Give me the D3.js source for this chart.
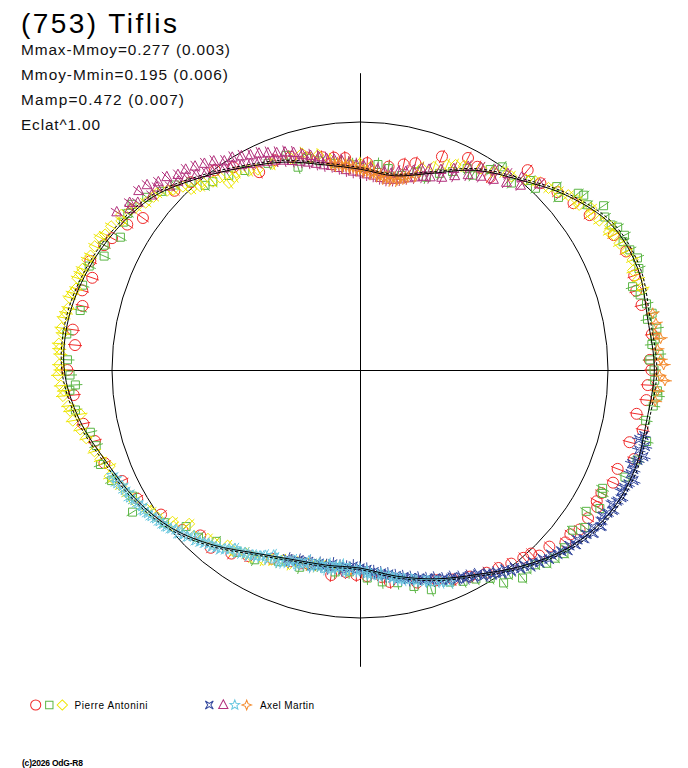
<!DOCTYPE html>
<html><head><meta charset="utf-8">
<script src="https://cdn.jsdelivr.net/npm/d3@7"></script>
<style>html,body{margin:0;padding:0;background:#fff;} svg{display:block;}</style>
</head><body>
<svg id="c" width="688" height="768"></svg>
<script>
// ---------- texts ----------
const titleText = "(753) Tiflis";
const infoLines = ["Mmax-Mmoy=0.277 (0.003)", "Mmoy-Mmin=0.195 (0.006)", "Mamp=0.472 (0.007)", "Eclat^1.00"];
const observerNames = ["Pierre Antonini", "Axel Martin"];
const creditText = "(c)2026 OdG-R8";
const maxBrightMag = -0.195;   // Mmoy-Mmin, sets axis extent

// ---------- model lightcurve (phase in degrees, delta mag) ----------
const modelPhase = [0,10,20,30,40,50,60,70,80,90,100,110,120,130,140,150,160,170,180,190,200,210,220,230,240,250,260,270,280,290,300,310,320,330,340,350];
const modelMag   = [.225,.245,.180,.075,-.005,-.100,-.175,-.195,-.182,-.190,-.178,-.182,-.165,-.115,-.035,.050,.115,.180,.240,.240,.222,.170,.085,.005,-.050,-.095,-.155,-.195,-.196,-.174,-.140,-.095,-.015,.060,.120,.185];

// ---------- observations [phase deg, delta mag] ----------
const antoniniCircles = [[2,.196],[8,.205],[12,.180],[15,.160],[21,.088],[27,.045],[30,.060],[34,.069],[40,-.055],[44,-.050],[48,-.075],[52,-.096],[56,-.120],[62,-.160],[66,-.175],[71,-.170],[74,-.160],[77,-.166],[83,-.185],[88,-.170],[90,-.175],[93,-.163],[96,-.162],[99,-.132],[102,-.166],[105,-.128],[108,-.163],[111,-.116],[114,-.120],[117,-.096],[119,-.095],[120,-.108],[123,-.100],[126,-.098],[128,-.080],[130,-.085],[133,-.047],[136,-.043],[137,-.013],[139,-.004],[142,.010],[145,.028],[148,.040],[152,.063],[156,.085],[160,.112],[165,.130],[172,.160],[174,.190],[178,.200],[181,.207],[184,.220],[188,.196],[195,.230],[197,.222],[200,.215],[205,.190],[211,.145],[215,.110],[220,.072],[224,.082],[228,.040],[234,.009],[240,-.040],[245,-.062],[250,-.100],[255,-.110],[259,-.139],[265,-.160],[270,-.180],[275,-.155],[278,-.170],[283,-.150],[286,-.166],[289,-.144],[292,-.173],[296,-.150],[298,-.135],[302,-.110],[305,-.072],[314,-.043],[318,-.020],[324,.005],[328,.040],[333,.120],[338,.100],[342,.110],[346,.135],[350,.150],[353,.160],[356,.168]];
const antoniniSquares = [[318,-.020],[320,.031],[322,.040],[326,.060],[330,.080],[336,.100],[341,.096],[343,.170],[346,.140],[349,.165],[353,.190],[358,.205],[0,.220],[5,.200],[8,.215],[12,.240],[16,.200],[19,.213],[22,.170],[25,.135],[28,.090],[30,.106],[33,.040],[35,.000],[39,.033],[42,-.030],[44,-.020],[47,-.088],[49,-.064],[51,-.135],[52,-.147],[54,-.136],[56,-.184],[58,-.165],[60,-.170],[61,-.187],[63,-.195],[64,-.180],[66,-.190],[68,-.204],[70,-.195],[73,-.151],[75,-.170],[77,-.185],[79,-.198],[80,-.177],[82,-.206],[84,-.195],[85,-.181],[87,-.205],[88,-.170],[90,-.185],[92,-.188],[94,-.200],[95,-.203],[97,-.190],[100,-.170],[104,-.190],[108,-.175],[112,-.154],[116,-.092],[117,-.100],[120,-.120],[122,-.079],[125,-.110],[127,-.077],[131,-.096],[132,-.110],[134,-.096],[136,-.087],[138,-.060],[140,-.050],[142,-.068],[144,-.020],[146,-.038],[148,.010],[151,.040],[154,.058],[157,.080],[162,.077],[166,.115],[170,.150],[174,.165],[178,.190],[183,.222],[187,.215],[192,.236],[197,.200],[203,.190],[209,.145],[214,.130],[220,.112],[224,.070],[228,.063],[232,.000],[238,-.085],[241,-.052],[246,-.100],[250,-.117],[254,-.110],[257,-.119],[262,-.160],[266,-.173],[267,-.151],[269,-.170],[272,-.180],[277,-.190],[282,-.155],[287,-.170],[291,-.170],[294,-.132],[296,-.150],[299,-.108],[302,-.128],[304,-.132],[306,-.139],[309,-.110],[312,-.080],[315,-.058]];
const antoniniDiamonds = [[17,.175],[20,.150],[23,.117],[25,.100],[27,.086],[31,.058],[34,.040],[36,.015],[38,.010],[41,-.020],[43,-.041],[46,-.060],[48,-.080],[50,-.100],[52,-.115],[53,-.110],[55,-.140],[56,-.126],[58,-.140],[60,-.165],[61,-.150],[62,-.160],[64,-.165],[66,-.177],[68,-.185],[70,-.172],[72,-.180],[74,-.185],[183,.235],[186,.240],[190,.240],[193,.230],[195,.230],[198,.222],[200,.200],[202,.205],[205,.185],[207,.165],[210,.150],[212,.150],[215,.125],[217,.130],[220,.100],[222,.095],[225,.060],[228,.082],[230,.020],[231,.030],[234,-.011],[236,-.020],[237,-.030],[240,-.055],[242,-.065],[244,-.075],[246,-.090],[247,-.100],[249,-.085],[251,-.110],[253,-.123],[256,-.140],[258,-.155],[260,-.176],[261,-.143],[262,-.180],[263,-.185],[265,-.200],[266,-.195],[267,-.205],[269,-.214],[270,-.205],[271,-.210],[273,-.207],[274,-.212],[275,-.215],[277,-.205],[278,-.212],[280,-.210],[281,-.205],[282,-.200],[284,-.205],[285,-.198],[286,-.190],[288,-.196],[289,-.192],[290,-.190],[292,-.185],[293,-.180],[295,-.180],[297,-.177],[298,-.165],[300,-.160],[302,-.137],[303,-.150],[305,-.130],[306,-.120],[308,-.100],[310,-.090],[311,-.089],[313,-.065],[314,-.050],[316,-.030],[317,.002],[319,.020],[320,.010],[322,.040],[324,.044],[325,.089],[327,.080],[328,.068],[331,.090],[333,.106],[337,.110],[342,.120],[345,.110],[347,.140],[349,.135],[352,.170],[355,.190],[357,.195],[0,.200],[3,.215]];
const martinCrosses = [[103,-.175],[104,-.160],[105,-.190],[106,-.170],[107,-.195],[108,-.178],[109,-.160],[110,-.175],[111,-.168],[112,-.190],[113,-.175],[114,-.165],[115,-.162],[116,-.175],[117,-.165],[118,-.152],[119,-.168],[120,-.155],[121,-.145],[122,-.150],[123,-.160],[124,-.135],[125,-.150],[126,-.130],[127,-.133],[128,-.115],[129,-.122],[130,-.105],[131,-.112],[132,-.095],[133,-.092],[134,-.075],[135,-.082],[136,-.062],[137,-.066],[138,-.045],[139,-.052],[140,-.030],[141,-.032],[142,-.012],[143,-.016],[144,.006],[145,.000],[146,.018],[147,.020],[148,.036],[149,.034],[150,.056],[151,.052],[152,.068],[153,.064],[154,.081],[155,.078],[156,.098],[157,.090],[158,.106],[159,.104],[160,.124],[161,.118],[162,.134],[163,.130],[164,.148],[165,.144],[166,.161],[167,.154],[168,.174],[169,.169],[170,.186],[171,.178],[172,.201],[173,.194],[174,.211],[175,.204],[176,.221],[177,.218],[178,.236],[179,.228],[180,.244],[181,.234],[182,.254],[183,.240],[184,.246],[185,.230],[186,.248],[187,.242],[188,.256],[189,.232],[190,.241],[191,.238],[192,.246],[194,.224],[195,.244],[197,.230],[198,.234],[200,.214],[201,.222]];
const martinTriangles = [[303,-.170],[305,-.135],[306,-.150],[307,-.125],[309,-.150],[310,-.100],[311,-.140],[312,-.105],[313,-.115],[314,-.070],[315,-.105],[316,-.060],[317,-.080],[318,-.050],[319,-.075],[320,-.030],[321,-.060],[322,-.010],[323,-.045],[324,.000],[325,-.030],[326,.020],[327,-.005],[328,.030],[329,.000],[330,.050],[331,.015],[332,.065],[333,.030],[334,.075],[335,.040],[336,.090],[337,.055],[338,.100],[339,.070],[340,.115],[341,.080],[342,.130],[343,.095],[344,.145],[345,.115],[346,.160],[347,.130],[348,.175],[349,.145],[350,.190],[351,.160],[352,.200],[353,.170],[354,.215],[355,.180],[356,.230],[357,.195],[358,.240],[359,.205],[0,.245],[1,.210],[2,.255],[3,.220],[4,.260],[5,.225],[6,.270],[7,.235],[8,.275],[9,.240],[10,.270],[11,.225],[12,.260],[13,.215],[14,.245],[15,.200],[16,.230],[17,.180],[18,.215],[19,.170],[20,.205],[22,.150],[23,.185],[25,.120],[26,.150],[28,.080],[29,.115],[31,.055],[32,.090],[34,.030],[35,.070],[37,.010],[38,.045],[40,-.015],[41,.015],[44,-.045]];
const martinStars = [[157,.080],[159,.095],[160,.105],[162,.120],[163,.125],[165,.140],[166,.150],[168,.160],[169,.165],[170,.170],[171,.180],[172,.190],[174,.205],[175,.200],[177,.210],[178,.225],[178,.215],[180,.235],[181,.230],[183,.240],[184,.225],[185,.255],[186,.245],[187,.240],[188,.230],[189,.250],[190,.225],[191,.235],[192,.240],[193,.230],[194,.220],[195,.245],[196,.225],[197,.220],[198,.210],[199,.225],[200,.215],[201,.205],[202,.195],[203,.190],[204,.200],[205,.210],[206,.180],[207,.190],[208,.175],[209,.165],[210,.160],[211,.150],[212,.150],[213,.140],[214,.130],[215,.140],[216,.120],[217,.110],[218,.095],[219,.090],[220,.080],[221,.080],[222,.070],[223,.060],[224,.050],[225,.060],[226,.035],[227,.030],[228,.015],[229,.020],[230,.005],[231,-.005],[232,-.010],[233,-.015],[234,-.020],[235,-.030],[236,-.035],[237,-.045],[238,-.040],[239,-.048],[240,-.055],[241,-.065],[242,-.060],[243,-.070],[244,-.070],[245,-.085],[246,-.080],[247,-.090]];
const martinSparkles = [[352,.190],[353,.200],[354,.195],[355,.210],[356,.205],[357,.220],[358,.215],[359,.230],[0,.225],[1,.240],[2,.235],[3,.250],[4,.245],[5,.260],[6,.255],[7,.270],[8,.265],[9,.275],[10,.260],[11,.270],[12,.255],[13,.250],[14,.240],[16,.225],[79,-.200],[81,-.205],[83,-.195],[84,-.215],[86,-.200],[88,-.210],[89,-.220],[91,-.205],[92,-.225],[94,-.200],[96,-.195]];

// ---------- setup ----------
const W = 688, H = 768, cx = 360, cy = 370, R0 = 248;
const svg = d3.select("#c");
svg.append("rect").attr("width", W).attr("height", H).attr("fill", "#fff");

const angle = d3.scaleLinear().domain([0, 360]).range([0, 2 * Math.PI]);
const radius = d3.scaleLinear().domain([0, 1]).range([0, R0]);   // brightness^1.00
const flux = m => Math.pow(10, -0.4 * m);
const pos = (ph, m, dr = 0) => {
  const a = angle(ph), r = radius(flux(m)) + dr;
  return [cx + r * Math.sin(a), cy - r * Math.cos(a)];
};

// symbol paths (local coords)
const sym = {
  circle: () => { const r = 5.5; return `M${r},0A${r},${r} 0 1,1 ${-r},0A${r},${r} 0 1,1 ${r},0Z`; },
  square: () => "M-4,-4H4V4H-4Z",
  diamond: () => "M0,-5.6L5.6,0L0,5.6L-5.6,0Z",
  triangle: () => "M0,-5.6L5,3.8L-5,3.8Z",
  cross: () => { const s = 4.3, i = 1.7; return `M${-s},${-s}L0,${-i}L${s},${-s}L${i},0L${s},${s}L0,${i}L${-s},${s}L${-i},0Z`; },
  star: () => { let p = []; for (let k = 0; k < 10; k++) { const rr = k % 2 ? 2.4 : 5.6; const a = k * Math.PI / 5; p.push([rr * Math.sin(a), -rr * Math.cos(a)]); } return "M" + p.map(q => q[0].toFixed(2) + "," + q[1].toFixed(2)).join("L") + "Z"; },
  sparkle: () => { const s = 5.3, i = 1.5; return `M0,${-s}L${i},${-i}L${s},0L${i},${i}L0,${s}L${-i},${i}L${-s},0L${-i},${-i}Z`; }
};

const seriesList = [
  { data: antoniniCircles, shape: "circle", color: "#f02a2a" },
  { data: antoniniSquares, shape: "square", color: "#5cb646" },
  { data: antoniniDiamonds, shape: "diamond", color: "#eee600" },
  { data: martinCrosses, shape: "cross", color: "#34489e" },
  { data: martinTriangles, shape: "triangle", color: "#b2307c" },
  { data: martinStars, shape: "star", color: "#6ac8e0" },
  { data: martinSparkles, shape: "sparkle", color: "#f48a2c" }
];

// ---------- reference circle and axes ----------
const axisR = radius(flux(maxBrightMag));
svg.append("circle").attr("cx", cx).attr("cy", cy).attr("r", radius(1))
  .attr("fill", "none").attr("stroke", "#000").attr("stroke-width", 1);
svg.append("line").attr("x1", cx - axisR).attr("x2", cx + axisR).attr("y1", cy + 0.5).attr("y2", cy + 0.5)
  .attr("stroke", "#000").attr("stroke-width", 1);
svg.append("line").attr("x1", cx + 0.5).attr("x2", cx + 0.5).attr("y1", cy - axisR).attr("y2", cy + axisR)
  .attr("stroke", "#000").attr("stroke-width", 1);

// ---------- observations ----------
const gPts = svg.append("g");
seriesList.forEach(s => {
  const g = gPts.append("g").attr("stroke", s.color).attr("fill", "none").attr("stroke-width", 1);
  s.data.forEach(d => {
    const [x, y] = pos(d[0], d[1]);
    const [x1, y1] = pos(d[0], d[1], -7);
    const [x2, y2] = pos(d[0], d[1], 7);
    g.append("line").attr("x1", x1).attr("y1", y1).attr("x2", x2).attr("y2", y2);
    g.append("path").attr("d", sym[s.shape]()).attr("transform", `translate(${x},${y})`);
  });
});

// ---------- model curve ----------
const model = modelPhase.map((p, i) => [p, modelMag[i]]);
const gModel = svg.append("g").attr("transform", `translate(${cx},${cy})`);
const radial = off => d3.lineRadial()
  .angle(d => angle(d[0]))
  .radius(d => radius(flux(d[1] + off)))
  .curve(d3.curveCatmullRomClosed.alpha(0.5));
gModel.append("path").attr("d", radial(-0.005)(model)).attr("fill", "none")
  .attr("stroke", "#000").attr("stroke-width", 1).attr("stroke-dasharray", "3,2");
gModel.append("path").attr("d", radial(0.004)(model)).attr("fill", "none")
  .attr("stroke", "#000").attr("stroke-width", 1);

// ---------- texts ----------
const font = "'Liberation Sans', Arial, sans-serif";
svg.append("text").attr("x", 21).attr("y", 33).attr("font-family", font).attr("font-size", 28)
  .attr("fill", "#000").attr("textLength", 156).attr("lengthAdjust", "spacing").text(titleText);
const infoWidths = [209, 207, 163, 79];
infoLines.forEach((t, i) => {
  svg.append("text").attr("x", 21).attr("y", 54.5 + 25 * i).attr("font-family", font).attr("font-size", 15.4)
    .attr("fill", "#111").attr("textLength", infoWidths[i]).attr("lengthAdjust", "spacing").text(t);
});

// ---------- legend ----------
const legendItems = [
  { x: 35.7, s: seriesList[0] }, { x: 49.3, s: seriesList[1] }, { x: 62.3, s: seriesList[2] },
  { x: 209.3, s: seriesList[3] }, { x: 223.3, s: seriesList[4] }, { x: 234.8, s: seriesList[5] }, { x: 246.7, s: seriesList[6] }
];
legendItems.forEach(l => {
  svg.append("path").attr("d", sym[l.s.shape]()).attr("transform", `translate(${l.x},705) scale(0.92)`)
    .attr("fill", "none").attr("stroke", l.s.color).attr("stroke-width", 1.1);
});
svg.append("text").attr("x", 74.5).attr("y", 709).attr("font-family", font).attr("font-size", 10)
  .attr("fill", "#000").attr("textLength", 73).attr("lengthAdjust", "spacing").text(observerNames[0]);
svg.append("text").attr("x", 260).attr("y", 709).attr("font-family", font).attr("font-size", 10)
  .attr("fill", "#000").attr("textLength", 54).attr("lengthAdjust", "spacing").text(observerNames[1]);

svg.append("text").attr("x", 22).attr("y", 766).attr("font-family", font).attr("font-size", 8.5)
  .attr("font-weight", "bold").attr("fill", "#000").attr("textLength", 61).attr("lengthAdjust", "spacing").text(creditText);
</script>
</body></html>
